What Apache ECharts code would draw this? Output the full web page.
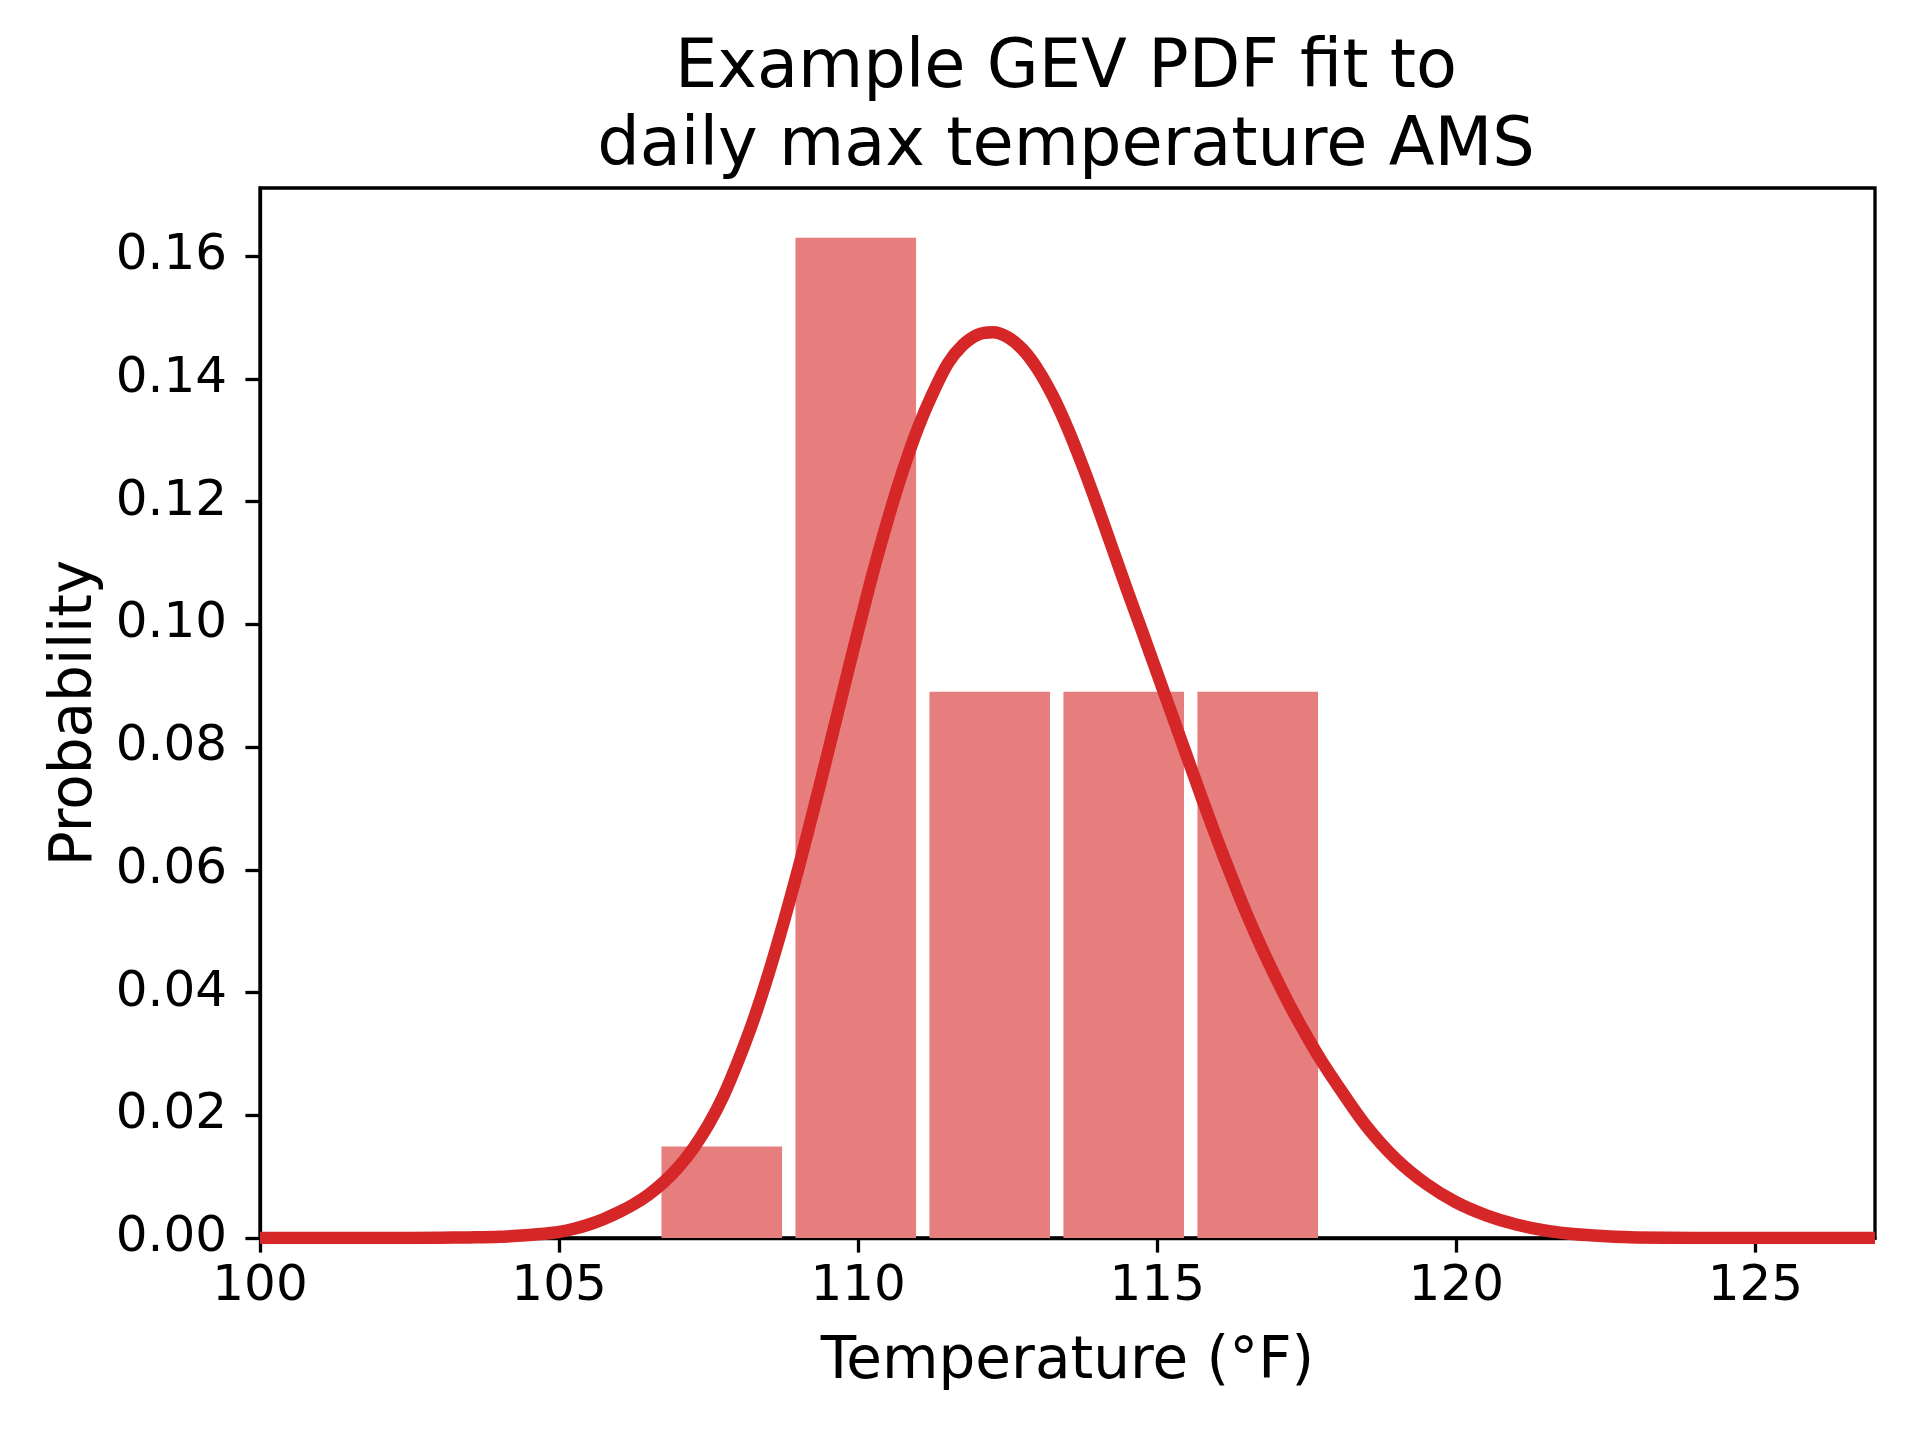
<!DOCTYPE html>
<html>
<head>
<meta charset="utf-8">
<script src="https://cdn.jsdelivr.net/npm/echarts@6/dist/echarts.min.js"></script>
<style>
html,body{margin:0;padding:0;background:#fff;}
#chart{width:1920px;height:1440px;}
</style>
</head>
<body>
<div id="chart"></div>
<script>
// ---- data ----
const binEdges = [106.60, 108.84, 111.08, 113.32, 115.56, 117.80];
const binDensity = [0.0149, 0.163, 0.089, 0.089, 0.089];
const rwidth = 0.9;
const pdfX = [100, 101, 102, 103, 103.5, 104, 104.5, 104.75, 105, 105.25, 105.5, 105.75, 106, 106.25, 106.5, 106.75, 107, 107.25, 107.5, 107.75,
  108, 108.25, 108.5, 108.75, 109, 109.25, 109.5, 109.75, 110, 110.25, 110.5, 110.75, 111, 111.25, 111.5, 111.75,
  112, 112.25, 112.5, 112.75, 113, 113.25, 113.5, 113.75, 114, 114.25, 114.5, 114.75, 115, 115.25, 115.5, 115.75,
  116, 116.25, 116.5, 116.75, 117, 117.25, 117.5, 117.75, 118, 118.5, 119, 119.5, 120, 120.5, 121, 121.5, 122, 122.5, 123, 124, 125, 126, 127];
const pdfY = [0, 0, 0, 0.00005, 0.0001, 0.0002, 0.0005, 0.0007, 0.0010, 0.0015, 0.0022, 0.0031, 0.0042, 0.0055, 0.0071, 0.0091, 0.0116, 0.0147, 0.0185, 0.0232,
  0.0290, 0.0355, 0.0430, 0.0513, 0.0602, 0.0696, 0.0793, 0.0892, 0.0990, 0.1085, 0.1172, 0.1251, 0.1320, 0.1377, 0.1425, 0.1455,
  0.1472, 0.1476, 0.1468, 0.1448, 0.1416, 0.1373, 0.1320, 0.1259, 0.1193, 0.1124, 0.1055, 0.0988, 0.0920, 0.0852, 0.0784, 0.0716,
  0.0650, 0.0587, 0.0527, 0.0472, 0.0421, 0.0373, 0.0329, 0.0288, 0.0251, 0.0182, 0.0128, 0.0088, 0.0058, 0.0037, 0.0022, 0.0012, 0.0006, 0.0003, 0.0001, 0, 0, 0, 0];
const xTicks = [100, 105, 110, 115, 120, 125];
const yTicks = [0, 0.02, 0.04, 0.06, 0.08, 0.10, 0.12, 0.14, 0.16];
const titleText = 'Example GEV PDF fit to\ndaily max temperature AMS';
const xName = 'Temperature (°F)';
const yName = 'Probability';

const histData = binDensity.map((d, i) => [binEdges[i], binEdges[i + 1], d]);
const lineData = pdfX.map((x, i) => [x, pdfY[i]]);

const FONT = 'DejaVu Sans';
const chart = echarts.init(document.getElementById('chart'), null, {renderer: 'canvas'});
chart.setOption({
  animation: false,
  backgroundColor: '#ffffff',
  title: {
    text: titleText,
    left: 1061,
    top: 26,
    textAlign: 'center',
    textStyle: {fontFamily: FONT, fontSize: 67, fontWeight: 'normal', color: '#000', lineHeight: 78}
  },
  grid: {left: 260, right: 45, top: 188, bottom: 202, show: true, borderColor: '#000', borderWidth: 3.3, backgroundColor: 'transparent'},
  xAxis: {
    type: 'value', min: 100, max: 127, interval: 5,
    name: xName, nameLocation: 'middle', nameGap: 96,
    nameTextStyle: {fontFamily: FONT, fontSize: 58, color: '#000'},
    axisLine: {show: true, lineStyle: {color: '#000', width: 3.3}},
    axisTick: {show: true, inside: false, length: 14.6, lineStyle: {color: '#000', width: 3.3}, customValues: xTicks},
    axisLabel: {fontFamily: FONT, fontSize: 50, color: '#000', margin: 24, customValues: xTicks},
    splitLine: {show: false}
  },
  yAxis: {
    type: 'value', min: 0, max: 0.1711, interval: 0.02,
    name: yName, nameLocation: 'middle', nameGap: 150, nameRotate: 90,
    nameTextStyle: {fontFamily: FONT, fontSize: 58, color: '#000'},
    axisLine: {show: true, lineStyle: {color: '#000', width: 3.3}},
    axisTick: {show: true, inside: false, length: 14.6, lineStyle: {color: '#000', width: 3.3}, customValues: yTicks},
    axisLabel: {fontFamily: FONT, fontSize: 50, color: '#000', margin: 33, customValues: yTicks,
      formatter: v => v.toFixed(2)},
    splitLine: {show: false}
  },
  series: [
    {
      type: 'custom',
      data: histData,
      encode: {x: [0, 1], y: 2},
      renderItem: function (params, api) {
        const x0 = api.value(0), x1 = api.value(1), h = api.value(2);
        const w = x1 - x0;
        const pad = w * (1 - rwidth) / 2;
        const p0 = api.coord([x0 + pad, h]);
        const p1 = api.coord([x1 - pad, 0]);
        return {
          type: 'rect',
          shape: {x: p0[0], y: p0[1], width: p1[0] - p0[0], height: p1[1] - p0[1]},
          style: {fill: '#e67e7e'}
        };
      },
      z: 1
    },
    {
      type: 'line',
      data: lineData,
      smooth: 0.3,
      showSymbol: false,
      symbol: 'none',
      clip: true,
      lineStyle: {color: '#d62728', width: 12.5, join: 'round'},
      z: 2
    }
  ]
});
</script>
</body>
</html>
